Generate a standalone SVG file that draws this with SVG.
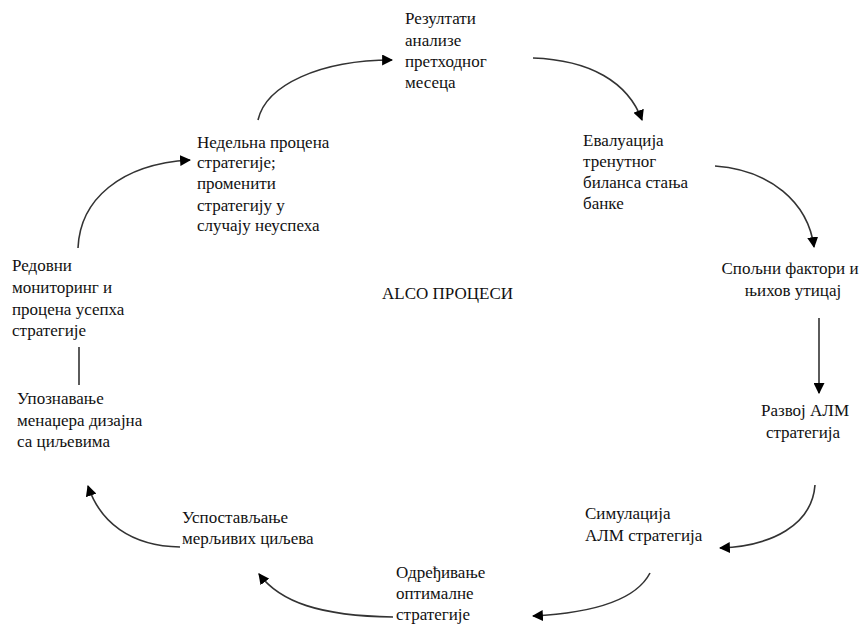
<svg xmlns="http://www.w3.org/2000/svg" width="866" height="625" viewBox="0 0 866 625">
<style>
.t text{font-size:17px;fill:#111}
.c{fill:none;stroke:#333;stroke-width:1.6}
.m{text-anchor:middle}
</style>
<defs>
<marker id="ah" viewBox="0 0 10 10" refX="9" refY="5" markerWidth="11" markerHeight="11" markerUnits="userSpaceOnUse" orient="auto">
<path d="M0,0 L10,5 L0,10 z" fill="#000"/>
</marker>
</defs>
<rect width="866" height="625" fill="#fff"/>
<g id="connectors">
<path class="c" d="M258,120 C266,85 320,60 392,60" marker-end="url(#ah)"/>
<path class="c" d="M533,58 C590,60 628,82 642,120" marker-end="url(#ah)"/>
<path class="c" d="M715,166 C770,170 808,202 814,247" marker-end="url(#ah)"/>
<path class="c" d="M819,318 L819,393" marker-end="url(#ah)"/>
<path class="c" d="M815,485 C812,525 772,546 720,548" marker-end="url(#ah)"/>
<path class="c" d="M650,573 C636,600 592,613 533,616" marker-end="url(#ah)"/>
<path class="c" d="M393,617 C320,616 280,602 259,574" marker-end="url(#ah)"/>
<path class="c" d="M180,547 C130,546 100,522 88,486" marker-end="url(#ah)"/>
<path class="c" d="M79,347 L79,385"/>
<path class="c" d="M78,248 C80,200 120,164 190,160" marker-end="url(#ah)"/>
</g>
<g class="t" font-family="Liberation Serif, DejaVu Serif, serif">
<g id="n1"><text x="405" y="24">Резултати</text><text x="405" y="46">анализе</text><text x="405" y="67">претходног</text><text x="405" y="88">месеца</text></g>
<g id="n2"><text x="583" y="146">Евалуација</text><text x="583" y="167">тренутног</text><text x="583" y="188">биланса стања</text><text x="583" y="209">банке</text></g>
<g id="n3"><text class="m" x="790" y="274">Спољни фактори и</text><text class="m" x="793" y="296">њихов утицај</text></g>
<g id="n4"><text class="m" x="805" y="416">Развој АЛМ</text><text class="m" x="803" y="438">стратегија</text></g>
<g id="n5"><text x="585" y="519">Симулација</text><text x="585" y="541">АЛМ стратегија</text></g>
<g id="n6"><text x="396" y="578">Одређивање</text><text x="396" y="599">оптималне</text><text x="396" y="620">стратегије</text></g>
<g id="n7"><text x="182" y="523">Успостављање</text><text x="182" y="544">мерљивих циљева</text></g>
<g id="n8"><text x="17" y="404">Упознавање</text><text x="17" y="426">менаџера дизајна</text><text x="17" y="447">са циљевима</text></g>
<g id="n9"><text x="12" y="271">Редовни</text><text x="12" y="293">мониторинг и</text><text x="12" y="315">процена усепха</text><text x="12" y="336">стратегије</text></g>
<g id="n10"><text x="197" y="148">Недельна процена</text><text x="197" y="168">стратегије;</text><text x="197" y="189">променити</text><text x="197" y="211">стратегију у</text><text x="197" y="231">случају неуспеха</text></g>
<g id="title"><text x="382" y="299">ALCO ПРОЦЕСИ</text></g>
</g>
</svg>
